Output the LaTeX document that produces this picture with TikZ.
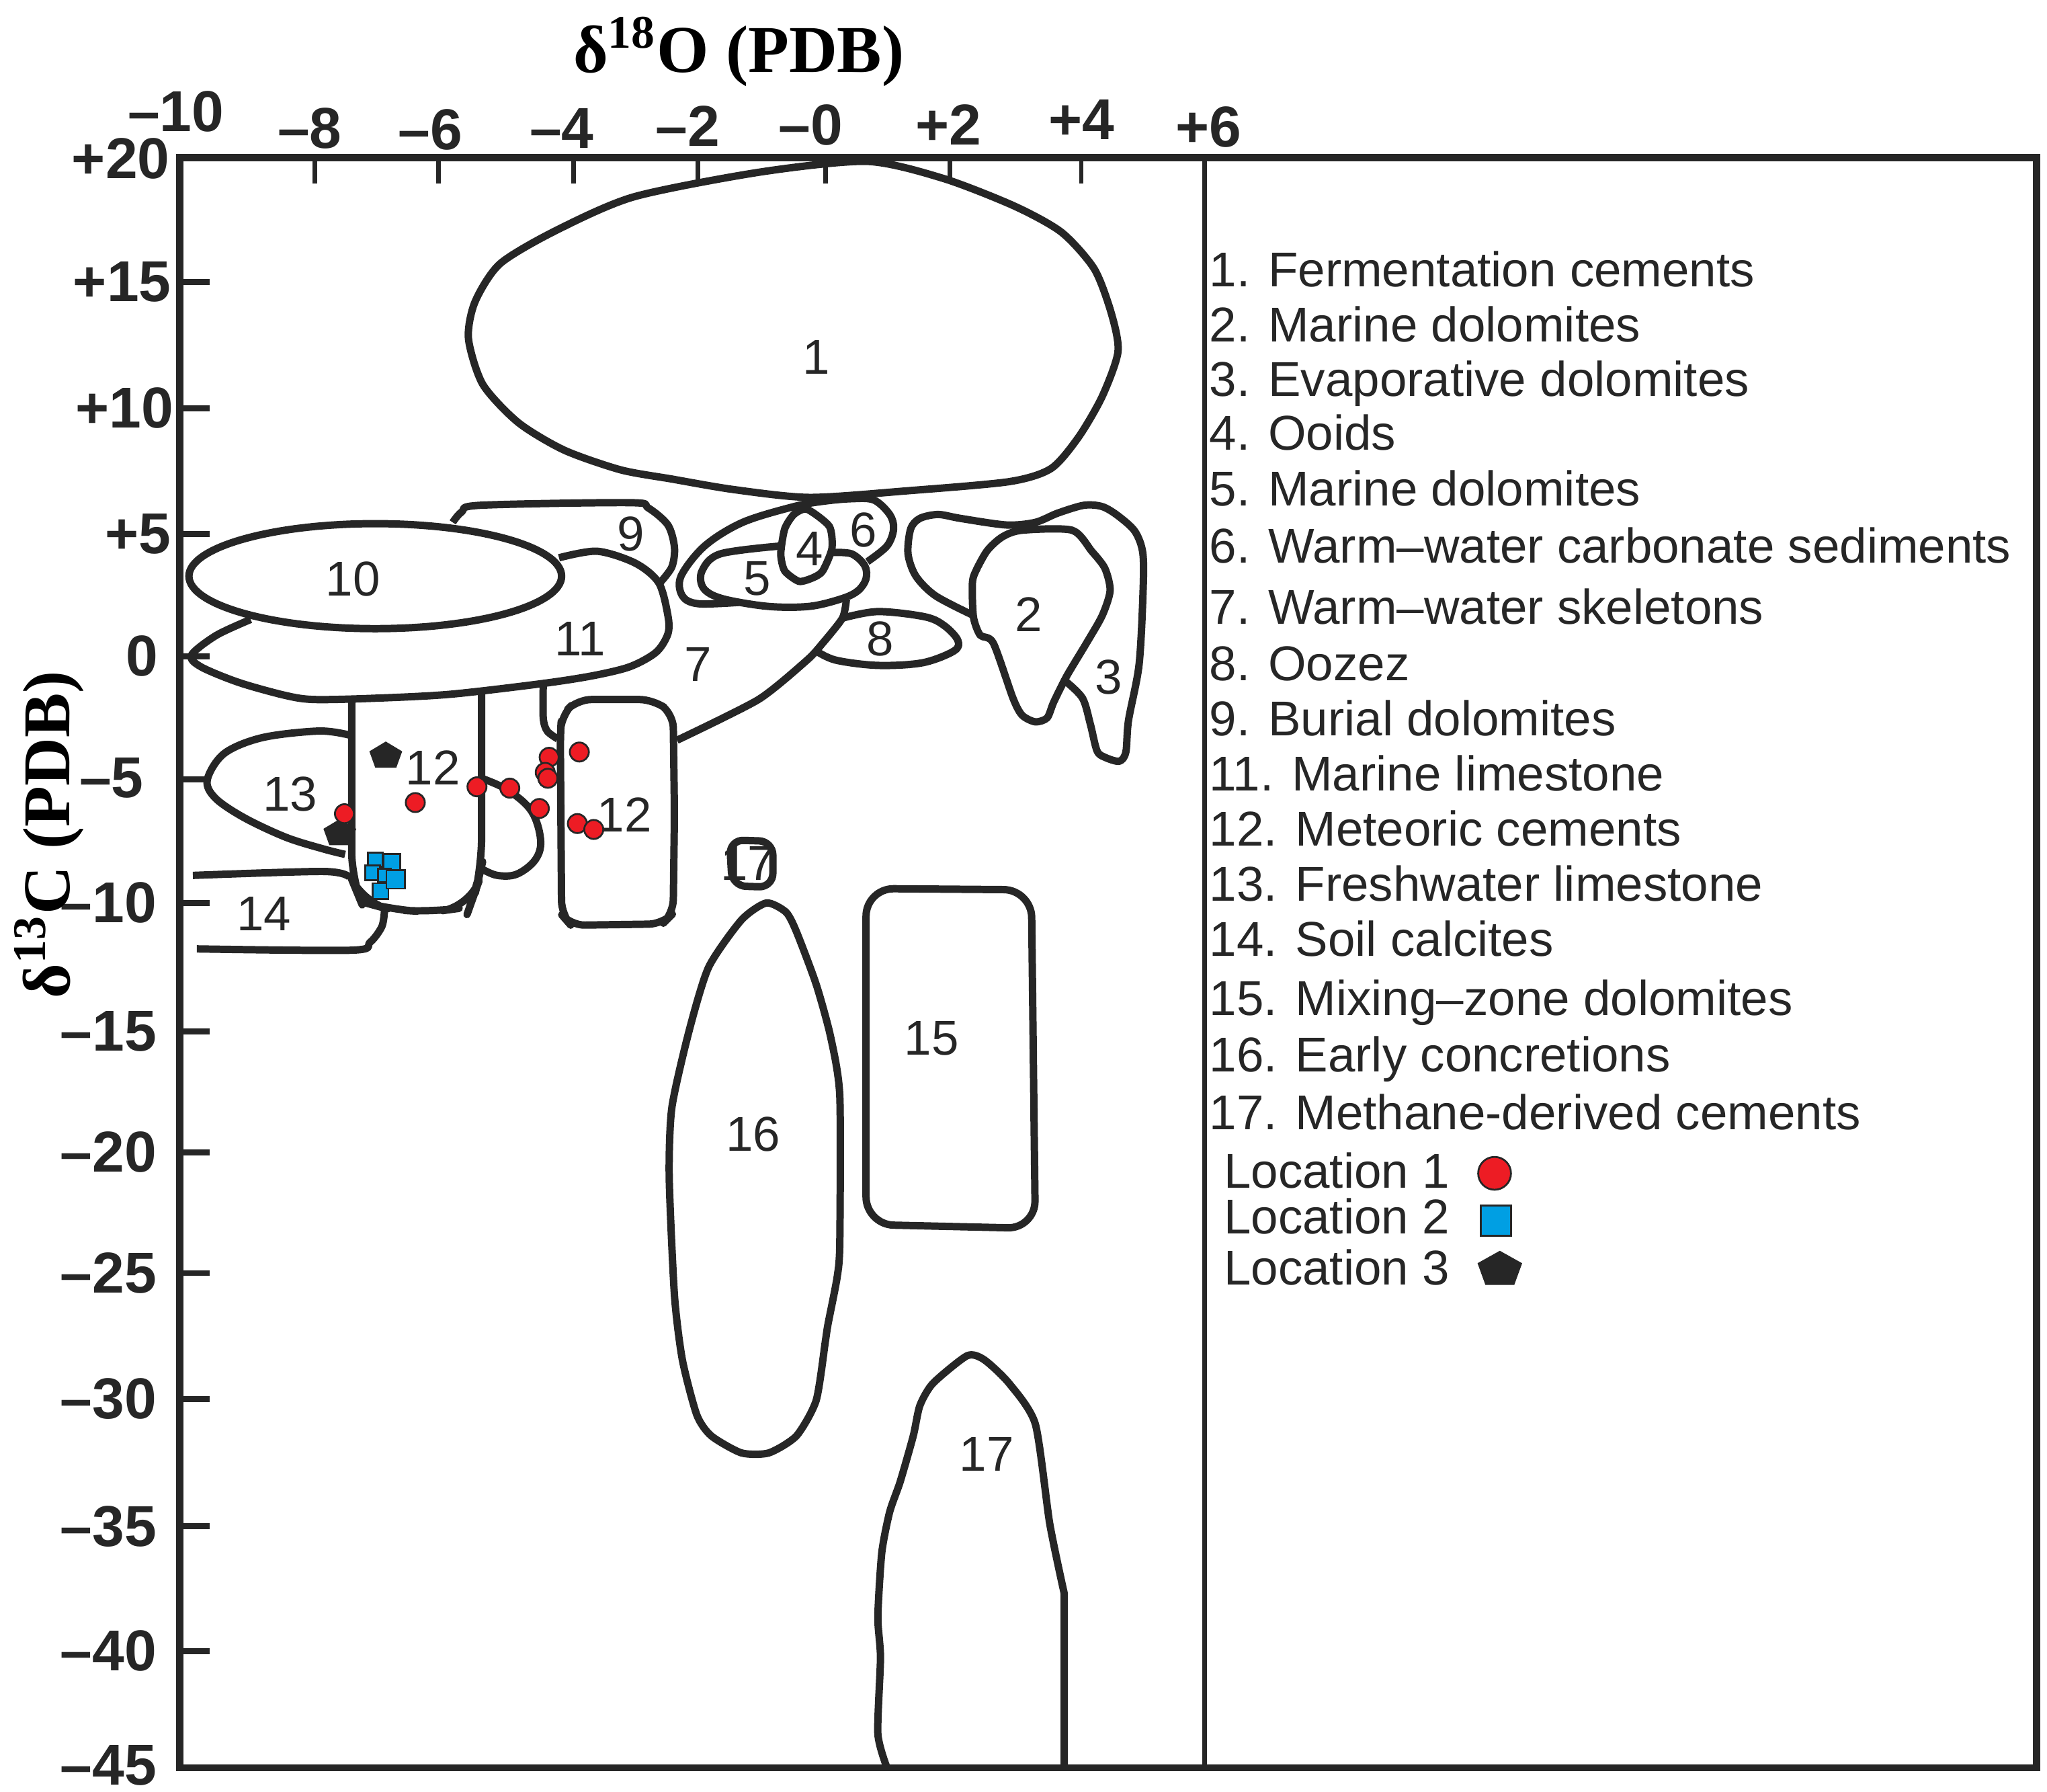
\documentclass[tikz,border=0pt]{standalone}
\usepackage{fontspec}
\setmainfont{Liberation Sans}
\newfontfamily\titlefont{Liberation Serif}
\definecolor{ink}{HTML}{262626}
\definecolor{locred}{HTML}{ED1C24}
\definecolor{locblue}{HTML}{009FE3}
\tikzset{
  zone/.style={draw=ink, line width=1.6pt, line join=round},
  zonelabel/.style={font=\fontsize{10.6}{12}\selectfont, text=ink, inner sep=0pt},
  legtext/.style={font=\fontsize{10.6}{12}\selectfont, text=ink, anchor=base west, inner sep=0pt},
  ticklabel/.style={font=\fontsize{12.5}{14}\selectfont\bfseries, text=ink, inner sep=0pt},
  axistitle/.style={font=\fontsize{14.5}{16}\selectfont\titlefont\bfseries, text=black, inner sep=0pt, anchor=base},
  locone/.style={circle, fill=locred, draw=ink, line width=0.4pt, minimum size=1.45mm, inner sep=0pt},
  loctwo/.style={rectangle, fill=locblue, draw=ink, line width=0.4pt, inner sep=0pt}
}
\begin{document}
\begin{tikzpicture}[x=0.1mm, y=-0.1mm]
        \useasboundingbox (0,0) rectangle (1560,1365);

        % frame and ticks
        \draw[ink, line width=1.55pt] (137,120) rectangle (1552,1347);
        \draw[ink, line width=1.1pt] (918,120) -- (918,1347);
        \foreach \tx in {240,334,437,532,629,724,824}
          \draw[ink, line width=1pt] (\tx,120) -- (\tx,140);
        \foreach \ty in {215,311,407,500,594,688,786,878,970,1066,1163,1258}
          \draw[ink, line width=1.3pt] (137,\ty) -- (160,\ty);

        \foreach \tx/\ty/\t [count=\i] in {134/85/–10, 236/98/–8, 328/99/–6, 428/98/–4, 524/96/–2, 618/95/–0, 723/95/+2, 824/91/+4, 921/97/+6}
          \node[ticklabel] (xt\i) at (\tx,\ty) {\t};
        \foreach \tx/\ty/\t [count=\i] in {130/121/+20, 131/215/+15, 133/311/+10, 131/407/+5, 121/500/0, 110/593/–5, 120/688/–10, 120/786/–15, 120/878/–20, 120/970/–25, 120/1066/–30, 120/1163/–35, 120/1258/–40, 120/1345/–45}
          \node[ticklabel, anchor=east] (yt\i) at (\tx,\ty) {\t};

        \node[axistitle] (otitle) at (563,55) {δ\textsuperscript{18}O (PDB)};
        \node[axistitle, rotate=90] (ctitle) at (53,636) {δ\textsuperscript{13}C (PDB)};

        % fields
        \draw[zone] plot[smooth cycle, tension=0.45] coordinates {(661,123) (719,136) (773,157) (809,177) (834,205) (847,239) (852,268) (840,302) (822,333) (801,357) (769,367) (691,374) (617,379) (559,373) (512,365) (473,358) (430,343) (395,322) (368,293) (357,258) (362,230) (381,201) (423,176) (483,150) (580,131)};
        \draw[zone] (286,439) ellipse [x radius=142, y radius=40];
        \draw[zone] plot[smooth, tension=0.5] coordinates {(191,472) (165,484) (146,499) (153,508) (182,520) (218,530) (240,533) (286,532) (343,529) (412,521) (451,515) (480,508) (500,497) (509,483) (509,469) (502,444) (484,429) (455,420) (426,425)};
        \draw[zone] plot[smooth, tension=0.5] coordinates {(345,398) (352,390) (366,385) (480,383) (494,387) (509,400) (514,417) (512,432) (503,444)};
        \draw[zone, rounded corners=6pt] (268,533) -- (268,670) -- (275,687) -- (297,693) -- (329,695) -- (358,691) -- (363,677) -- (367,660) -- (367,527);
        \draw[zone] plot[smooth, tension=0.6] coordinates {(367,593) (387,602) (405,618) (412,640) (408,655) (394,666) (379,667) (367,662)};
        \draw[zone] plot[smooth, tension=0.5] coordinates {(414,522) (414,547) (417,557) (425,563)};
        \draw[zone, rounded corners=3pt] (427,560) -- (428,545) -- (440,533) -- (498,533) -- (513,544) -- (514,620) -- (513,696) -- (505,704) -- (435,705) -- (428,697) -- cycle;
        \draw[zone] plot[smooth, tension=0.55] coordinates {(266,560) (243,557) (200,562) (171,574) (158,594) (164,608) (186,623) (218,638) (247,647) (263,651)};
        \draw[zone] plot[smooth, tension=0.5] coordinates {(147,667) (246,664) (266,668)};
        \draw[zone] plot[smooth, tension=0.5] coordinates {(293,694) (291,706) (282,718) (268,724) (150,723)};
        \draw[zone] plot[smooth, tension=0.4] coordinates {(516,564) (578,533) (615,503) (627,490) (642,471) (645,457)};
        \draw[zone] plot[smooth, tension=0.55] coordinates {(661,428) (676,416) (681,403) (678,392) (666,381) (649,380) (627,382) (605,386) (566,398) (537,416) (519,439) (520,454) (532,460) (563,459)};
        \draw[zone] plot[smooth, tension=0.55] coordinates {(595,416) (549,422) (535,435) (536,448) (550,456) (585,462) (617,462) (642,456) (654,450) (660,441) (659,431) (649,422) (634,421)};
        \draw[zone] plot[smooth cycle, tension=0.4] coordinates {(615,388) (632,401) (634,418) (627,435) (620,440) (609,443) (598,435) (595,422) (598,403) (605,392)};
        \draw[zone] plot[smooth, tension=0.55] coordinates {(642,471) (669,466) (705,470) (720,477) (730,488) (727,496) (703,505) (669,507) (637,503) (622,496)};
        \draw[zone] plot[smooth, tension=0.5] coordinates {(742,469) (713,454) (698,439) (692,422) (694,403) (701,395) (715,392) (732,395) (767,400) (789,398) (806,391) (826,385) (840,386) (852,393) (865,405) (871,422) (871,454) (868,507) (860,549) (858,573) (853,580) (842,577) (836,572) (831,552) (825,532) (812,519)};
        \draw[zone] plot[smooth cycle, tension=0.45] coordinates {(742,439) (752,420) (764,409) (779,404) (817,404) (832,420) (842,433) (846,450) (840,469) (828,490) (813,515) (803,535) (798,547) (789,550) (779,545) (772,532) (757,490) (747,484) (742,471) (741,452)};
        \draw[zone, rounded corners=3pt] (556,640) -- (589,641) -- (589,676) -- (558,675) -- cycle;
        \draw[zone] plot[smooth cycle, tension=0.4] coordinates {(584,688) (565,701) (540,737) (525,786) (512,844) (510,897) (514,987) (520,1036) (531,1078) (542,1094) (565,1107) (586,1107) (607,1094) (622,1067) (629,1022) (631,1009) (638,973) (640,947) (640,835) (633,790) (622,750) (607,710) (599,695)};
        \draw[zone, rounded corners=6pt] (660,933) -- (660,677) -- (786,678) -- (789,936) -- cycle;
        \draw[zone] plot[smooth, tension=0.4] coordinates {(676,1347) (669,1321) (671,1263) (669,1232) (672,1183) (678,1152) (686,1129) (696,1094) (701,1071) (711,1054) (737,1033) (750,1036) (769,1054) (789,1085) (800,1161) (811,1214)} -- (811,1347);

        \foreach \zx/\zy/\zt [count=\i] in {622/272/1, 784/468/2, 845/516/3, 617/418/4, 577/441/5, 658/404/6, 532/506/7, 671/487/8, 481/407/9, 269/441/10, 442/487/11, 330/585/12, 476/621/12, 221/605/13, 201/696/14, 710/791/15, 574/864/16, 570/658/17, 752/1108/17}
          \node[zonelabel] (z\i) at (\zx,\zy) {\zt};

        % samples
        \coordinate (k1) at (294,575);
        \coordinate (k2) at (259,634);
        \foreach \k in {k1,k2}
          \fill[ink, shift={(\k)}] (0,-10) -- (12.5,-2.5) -- (8,10) -- (-8,10) -- (-12.5,-2.5) -- cycle;
        \foreach \px/\py [count=\i] in {262.5/620, 316.5/611.5, 363.5/599.5, 388.5/600.5, 411/616, 418.5/577, 415.5/588.5, 417.5/593, 441.5/573, 440/627.5, 452.5/632}
          \node[locone] (r\i) at (\px,\py) {};
        \foreach \px/\py/\ps [count=\i] in {286/655/1.1mm, 298.5/657/1.3mm, 284/665/1.1mm, 293/667/1.0mm, 290/679/1.2mm, 301.5/670/1.4mm}
          \node[loctwo, minimum size=\ps] (b\i) at (\px,\py) {};

        % legend
        \foreach \ly/\lt [count=\i] in {218.5/1. Fermentation cements, 260.3/2. Marine dolomites, 302.1/3. Evaporative dolomites, 343/4. Ooids, 385.6/5. Marine dolomites, 429/6. Warm–water carbonate sediments, 475.5/7. Warm–water skeletons, 518.5/8. Oozez, 560.5/9. Burial dolomites, 602.5/11. Marine limestone, 644.5/12. Meteoric cements, 686.5/13. Freshwater limestone, 728.5/14. Soil calcites, 773.5/15. Mixing–zone dolomites, 816.5/16. Early concretions, 860.5/17. Methane-derived cements}
          \node[legtext] (leg\i) at (921,\ly) {\lt};
        \node[legtext] (locA) at (932,905) {Location 1};
        \node[legtext] (locB) at (932,940) {Location 2};
        \node[legtext] (locC) at (932,979) {Location 3};
        \node[locone, minimum size=2.5mm] (markA) at (1139,894) {};
        \node[loctwo, minimum size=2.3mm] (markB) at (1140,930) {};
        \coordinate (markC) at (1143,966);
        \fill[ink, shift={(markC)}] (0,-13) -- (17,-3.5) -- (11,13) -- (-11,13) -- (-17,-3.5) -- cycle;
\end{tikzpicture}
\end{document}
